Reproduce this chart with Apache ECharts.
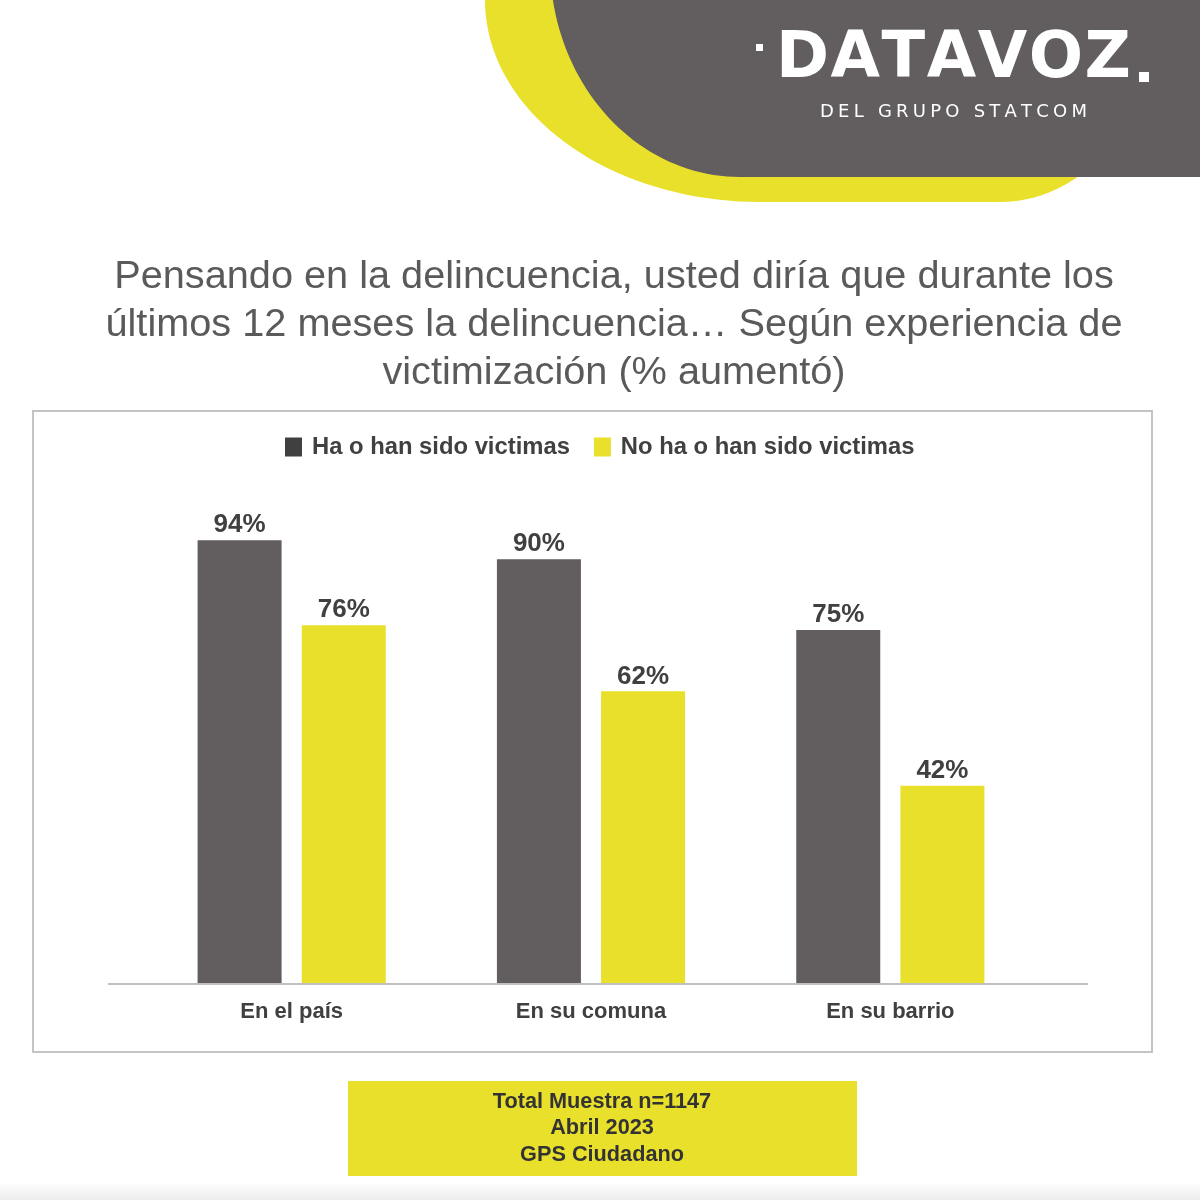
<!DOCTYPE html>
<html><head><meta charset="utf-8">
<script src="https://cdn.jsdelivr.net/npm/echarts@6/dist/echarts.min.js"></script>
<style>html,body{margin:0;padding:0;background:#fff}#c{width:1200px;height:1200px}</style>
</head><body><div id="c"></div>
<script>
const categories = ['En el país', 'En su comuna', 'En su barrio'];
const seriesNames = ['Ha o han sido victimas', 'No ha o han sido victimas'];
const victimas = [94, 90, 75];
const noVictimas = [76, 62, 42];
const titleLines = [
  'Pensando en la delincuencia, usted diría que durante los',
  'últimos 12 meses la delincuencia… Según experiencia de',
  'victimización (% aumentó)'
];
const footerLines = ['Total Muestra n=1147', 'Abril 2023', 'GPS Ciudadano'];
const logoMain = 'DATAVOZ';
const logoSub = 'DEL GRUPO STATCOM';

const GRAY = '#625d5e', YELLOW = '#e9e02c', TXT = '#404040';
const SANS = '"Liberation Sans", Arial, sans-serif';

function arc(cx, cy, rx, ry, t0, t1, n) {
  const pts = [];
  for (let i = 0; i <= n; i++) {
    const t = t0 + (t1 - t0) * i / n;
    pts.push([cx + rx * Math.cos(t), cy + ry * Math.sin(t)]);
  }
  return pts;
}
// header shapes
const yellowPts = [].concat(
  arc(760, 0, 275, 202, Math.PI, Math.PI / 2, 40),
  arc(1000, 2, 160, 200, Math.PI / 2, 0, 30),
  [[1160, 0]]
);
const gt0 = Math.PI - Math.asin(37 / 214);
const grayPts = [].concat(
  arc(740, -37, 190, 214, gt0, Math.PI / 2, 40),
  [[1200, 177], [1200, 0]]
);

const mctx = document.createElement('canvas').getContext('2d');
function spaced(str, font, x0, x1, yMid, fill) {
  mctx.font = font;
  const chars = [...str];
  const ws = chars.map(ch => mctx.measureText(ch).width);
  const total = ws.reduce((a, b) => a + b, 0);
  const sp = (x1 - x0 - total) / (chars.length - 1);
  let x = x0;
  const els = [];
  chars.forEach((ch, i) => {
    els.push({ type: 'text', x: x, y: yMid, z: 10,
      style: { text: ch, font: font, fill: fill, align: 'left', verticalAlign: 'middle', textAlign: 'left', textVerticalAlign: 'middle' } });
    x += ws[i] + sp;
  });
  return els;
}

const graphics = [
  { type: 'polygon', shape: { points: yellowPts }, style: { fill: YELLOW }, z: 1 },
  { type: 'polygon', shape: { points: grayPts }, style: { fill: GRAY }, z: 2 },
  { type: 'rect', shape: { x: 756, y: 44, width: 7, height: 7 }, style: { fill: '#fff' }, z: 10 },
  { type: 'rect', shape: { x: 1139, y: 72, width: 10, height: 10 }, style: { fill: '#fff' }, z: 10 },
  ...spaced(logoMain, 'bold 64px "DejaVu Sans"', 776, 1131, 60, '#fff'),
  ...spaced(logoSub, '18px "DejaVu Sans"', 820, 1087, 112, '#fff'),
  { type: 'rect', shape: { x: 33, y: 411, width: 1119, height: 641 }, style: { fill: null, stroke: '#c4c4c4', lineWidth: 2 }, z: 0 },
  { type: 'line', shape: { x1: 108, y1: 984, x2: 1088, y2: 984 }, style: { stroke: '#bfbfbf', lineWidth: 2 }, z: 5 },
  { type: 'rect', shape: { x: 348, y: 1081, width: 509, height: 95 }, style: { fill: YELLOW }, z: 1 },
  { type: 'rect', shape: { x: 0, y: 1182, width: 1200, height: 18 },
    style: { fill: new echarts.graphic.LinearGradient(0, 0, 0, 1, [{ offset: 0, color: '#ffffff' }, { offset: 1, color: '#ececec' }]) }, z: 0 }
];
titleLines.forEach((t, i) => graphics.push({ type: 'text', x: 614, y: 277 + i * 48, z: 10,
  style: { text: t, font: '39.7px ' + SANS, fill: '#5a5a5a', align: 'center', verticalAlign: 'middle', textAlign: 'center', textVerticalAlign: 'middle' } }));
footerLines.forEach((t, i) => graphics.push({ type: 'text', x: 602, y: 1102 + i * 26.5, z: 10,
  style: { text: t, font: 'bold 21.7px ' + SANS, fill: '#333333', align: 'center', verticalAlign: 'middle', textAlign: 'center', textVerticalAlign: 'middle' } }));

const chart = echarts.init(document.getElementById('c'), null, { renderer: 'canvas' });
const labelCfg = { show: true, position: 'top', distance: 2, formatter: '{c}%',
  fontFamily: SANS, fontWeight: 'bold', fontSize: 26, color: TXT };
chart.setOption({
  backgroundColor: '#ffffff',
  animation: false,
  textStyle: { fontFamily: SANS },
  legend: {
    top: 430, left: 280, itemWidth: 17, itemHeight: 19, itemGap: 24, icon: 'rect',
    textStyle: { fontFamily: SANS, fontWeight: 'bold', fontSize: 23.8, color: TXT, padding: [0, 0, 0, 5] },
    data: [
      { name: seriesNames[0], itemStyle: { color: '#404040' } },
      { name: seriesNames[1] }
    ]
  },
  grid: { left: 142, right: 160, top: 512, bottom: 216, containLabel: false },
  xAxis: {
    type: 'category', data: categories,
    axisLine: { show: false }, axisTick: { show: false },
    axisLabel: { margin: 17, fontFamily: SANS, fontWeight: 'bold', fontSize: 22, color: TXT }
  },
  yAxis: { type: 'value', min: 0, max: 100, show: false, splitLine: { show: false } },
  series: [
    { name: seriesNames[0], type: 'bar', data: victimas, barWidth: 84, barGap: '24%',
      itemStyle: { color: GRAY }, label: labelCfg },
    { name: seriesNames[1], type: 'bar', data: noVictimas, barWidth: 84, barGap: '24%',
      itemStyle: { color: YELLOW }, label: labelCfg }
  ],
  graphic: { elements: graphics }
});
</script>
</body></html>
